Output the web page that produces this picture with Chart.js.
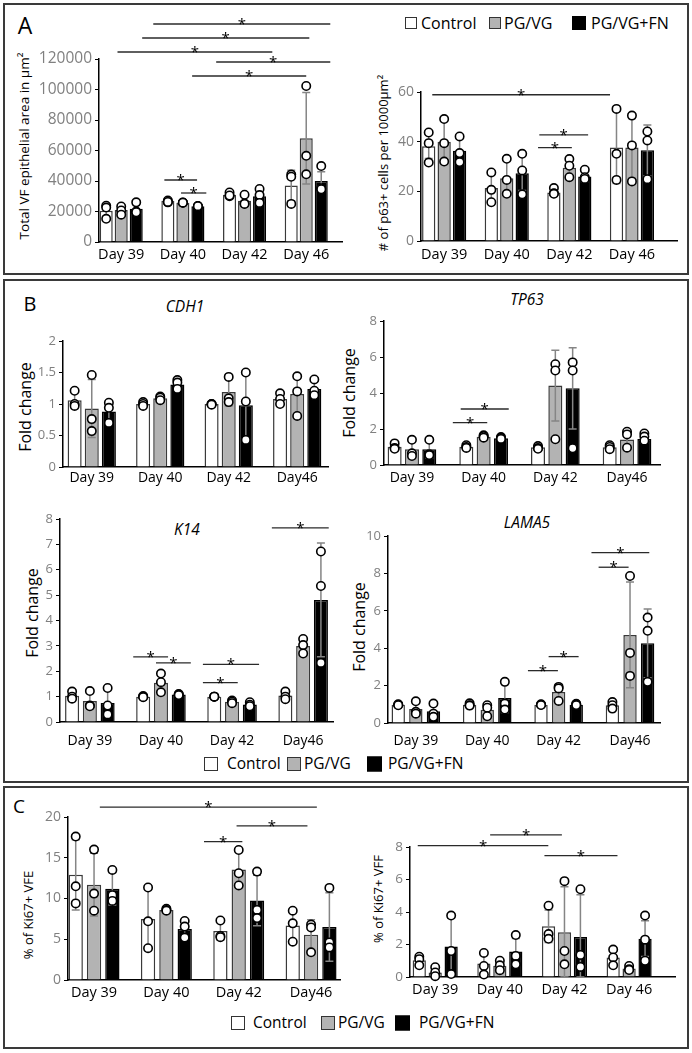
<!DOCTYPE html>
<html><head><meta charset="utf-8">
<script src="https://cdn.jsdelivr.net/npm/chart.js@4.4.1/dist/chart.umd.min.js"></script>
<style>
body{margin:0;width:692px;height:1053px;position:relative;background:#fff;font-family:'Open Sans',sans-serif;overflow:hidden;color:#000}
.panel{position:absolute;border:2px solid #3a3a3a;box-sizing:border-box}
.c{position:absolute;white-space:nowrap;transform:translate(-50%,-50%);line-height:1}
.yt{position:absolute;white-space:nowrap;transform:translate(-50%,-50%) rotate(-90deg);line-height:1}
.it{font-style:italic;font-size:15.5px}
.lt{position:absolute;white-space:nowrap;transform:translateY(-50%);line-height:1}
.sw{position:absolute;box-sizing:border-box;border:1.5px solid #333;transform:translateY(-50%)}
canvas{position:absolute}
</style></head>
<body>
<div class="panel" style="left:3px;top:3px;width:686px;height:272px"></div>
<div class="panel" style="left:3px;top:279px;width:686px;height:504px"></div>
<div class="panel" style="left:3px;top:786px;width:686px;height:263px"></div>

<div class="c" style="left:25px;top:25px;font-size:23px">A</div>
<div class="c" style="left:30px;top:304px;font-size:20px">B</div>
<div class="c" style="left:19px;top:806px;font-size:19px">C</div>

<div class="yt" style="left:25px;top:146px;font-size:13.5px">Total VF epithelial area in µm²</div>
<div class="yt" style="left:383px;top:163px;font-size:13px"># of p63+ cells per 10000µm²</div>
<div class="yt" style="left:25px;top:407px;font-size:16px">Fold change</div>
<div class="yt" style="left:349px;top:393px;font-size:16px">Fold change</div>
<div class="yt" style="left:32px;top:613px;font-size:16px">Fold change</div>
<div class="yt" style="left:359px;top:627px;font-size:16px">Fold change</div>
<div class="yt" style="left:28px;top:915px;font-size:13px">% of Ki67+ VFE</div>
<div class="yt" style="left:378px;top:899px;font-size:13px">% of Ki67+ VFF</div>

<div class="c it" style="left:185px;top:307px">CDH1</div>
<div class="c it" style="left:527px;top:300px">TP63</div>
<div class="c it" style="left:187px;top:530px">K14</div>
<div class="c it" style="left:527px;top:523px">LAMA5</div>

<div id="legends"></div>

<script>
// ---------- categories ----------
const SERIES = ['Control', 'PG/VG', 'PG/VG+FN'];
const daysA = ['Day 39', 'Day 40', 'Day 42', 'Day 46'];
const daysB = ['Day 39', 'Day 40', 'Day 42', 'Day46'];
const daysC2 = ['Day 39', 'Day 40', 'Day 42', 'Day 46'];

// ---------- A1: Total VF epithelial area (µm²) ----------
const areaCtrl = [20500, 27000, 31000, 37000];
const areaCtrlSD = [3500, 800, 1500, 10000];
const areaCtrlPts = [[23800, 22600, 15200], [27200, 26000, 26300], [32500, 30000, 30500], [44200, 42800, 25000]];
const areaPG = [21000, 25800, 27000, 68000];
const areaPGSD = [2500, 500, 3200, 30000];
const areaPGPts = [[23300, 20700, 17900], [25900, 25700, 25800], [31000, 25200, 25000], [102300, 56500, 44400]];
const areaFN = [21800, 23500, 30000, 40000];
const areaFNSD = [3000, 400, 4500, 6000];
const areaFNPts = [[26000, 20000, 19500], [23600, 23400, 23500], [34800, 30800, 25600], [49800, 35300, 34600]];
const areaSig = [[0.52, 3.39, 142950], [0.34, 3.05, 133760], [-0.06, 2.45, 124580], [1.54, 3.39, 118030], [1.15, 3.0, 108850], [0.70, 1.23, 40650], [0.97, 1.38, 32130]];

// ---------- A2: # of p63+ cells per 10000µm² ----------
const p63Ctrl = [38.2, 21.3, 19.5, 37.7];
const p63CtrlSD = [5.0, 5.5, 1.3, 14.5];
const p63CtrlPts = [[43.7, 39.4, 31.6], [27.6, 20.6, 15.6], [21.3, 19.2, 19.0], [53.2, 35.1, 24.6]];
const p63PG = [40.0, 25.3, 29.5, 37.7];
const p63PGSD = [8.8, 7.0, 3.5, 12.5];
const p63PGPts = [[49.1, 39.4, 32.0], [33.1, 24.6, 19.0], [33.0, 30.3, 25.7], [50.5, 38.5, 24.0]];
const p63FN = [36.3, 27.3, 26.0, 36.5];
const p63FNSD = [5.0, 7.0, 2.0, 10.2];
const p63FNPts = [[42.1, 35.4, 31.8], [35.1, 28.4, 18.8], [28.7, 25.7, 25.0], [44.1, 40.5, 24.9]];
const p63Sig = [[-0.19, 2.65, 58.9], [1.52, 2.30, 42.7], [1.50, 2.04, 37.6]];

// ---------- B1: CDH1 fold change ----------
const cdh1Ctrl = [1.06, 1.00, 1.00, 1.08];
const cdh1CtrlSD = [0.13, 0.03, 0.01, 0.09];
const cdh1CtrlPts = [[1.21, 1.00, 0.97], [1.03, 1.00, 0.97], [1.00, 1.00, 0.99], [1.17, 1.08, 1.00]];
const cdh1PG = [0.93, 1.09, 1.19, 1.16];
const cdh1PGSD = [0.46, 0.03, 0.22, 0.31];
const cdh1PGPts = [[1.46, 0.76, 0.57], [1.12, 1.10, 1.06], [1.43, 1.09, 1.03], [1.44, 1.20, 0.81]];
const cdh1FN = [0.88, 1.31, 0.98, 1.24];
const cdh1FNSD = [0.16, 0.07, 0.53, 0.12];
const cdh1FNPts = [[1.02, 0.94, 0.70], [1.38, 1.34, 1.24], [1.50, 1.04, 0.43], [1.39, 1.21, 1.14]];
const cdh1Sig = [];

// ---------- B2: TP63 fold change ----------
const tp63Ctrl = [1.02, 1.02, 0.98, 0.98];
const tp63CtrlSD = [0.15, 0.1, 0.08, 0.12];
const tp63CtrlPts = [[1.20, 0.95, 0.90], [1.10, 1.00, 0.95], [1.05, 0.95, 0.90], [1.10, 1.00, 0.88]];
const tp63PG = [0.87, 1.57, 4.41, 1.41];
const tp63PGSD = [0.48, 0.10, 1.97, 0.45];
const tp63PGPts = [[1.40, 0.65, 0.50], [1.65, 1.60, 1.52], [5.60, 5.25, 1.43], [1.85, 1.70, 0.96]];
const tp63FN = [0.87, 1.48, 4.26, 1.44];
const tp63FNSD = [0.48, 0.05, 2.26, 0.20];
const tp63FNPts = [[1.40, 0.60, 0.55], [1.55, 1.50, 1.45], [5.70, 5.25, 0.93], [1.75, 1.58, 1.35]];
const tp63Sig = [[0.57, 1.05, 2.35], [0.68, 1.35, 3.11]];

// ---------- B3: K14 fold change ----------
const k14Ctrl = [1.03, 1.00, 1.00, 1.04];
const k14CtrlSD = [0.12, 0.02, 0.02, 0.14];
const k14CtrlPts = [[1.20, 1.00, 0.92], [1.02, 1.00, 0.98], [1.00, 1.00, 1.00], [1.20, 1.00, 0.90]];
const k14PG = [0.83, 1.55, 0.80, 3.00];
const k14PGSD = [0.30, 0.37, 0.06, 0.28];
const k14PGPts = [[1.22, 0.65, 0.62], [1.91, 1.57, 1.17], [0.85, 0.80, 0.74], [3.27, 3.03, 2.70]];
const k14FN = [0.75, 1.08, 0.69, 4.81];
const k14FNSD = [0.52, 0.03, 0.07, 2.24];
const k14FNPts = [[1.34, 0.65, 0.30], [1.10, 1.08, 1.06], [0.78, 0.68, 0.62], [6.72, 5.36, 2.33]];
const k14Sig = [[0.61, 1.10, 2.57], [0.93, 1.42, 2.33], [1.59, 2.38, 2.27], [1.59, 2.08, 1.55], [2.56, 3.36, 7.65]];

// ---------- B4: LAMA5 fold change ----------
const lamaCtrl = [0.98, 0.98, 0.98, 0.95];
const lamaCtrlSD = [0.03, 0.08, 0.03, 0.15];
const lamaCtrlPts = [[1.00, 0.98, 0.95], [1.05, 0.95, 0.93], [1.00, 0.98, 0.96], [1.12, 0.95, 0.77]];
const lamaPG = [0.75, 0.71, 1.66, 4.71];
const lamaPGSD = [0.35, 0.30, 0.40, 2.83];
const lamaPGPts = [[1.16, 0.60, 0.50], [0.95, 0.82, 0.36], [1.93, 1.85, 1.18], [7.86, 3.75, 2.52]];
const lamaFN = [0.63, 1.34, 0.98, 4.26];
const lamaFNSD = [0.36, 0.78, 0.05, 1.84];
const lamaFNPts = [[1.04, 0.50, 0.33], [2.20, 1.04, 0.72], [1.03, 1.00, 0.96], [5.64, 4.93, 2.20]];
const lamaSig = [[1.57, 1.99, 2.80], [1.86, 2.28, 3.55], [2.56, 2.98, 8.33], [2.46, 3.27, 9.11]];

// ---------- C1: % of Ki67+ VFE ----------
const vfeCtrl = [12.9, 7.5, 6.0, 6.7];
const vfeCtrlSD = [4.3, 3.7, 1.1, 1.9];
const vfeCtrlPts = [[17.6, 11.5, 9.4], [11.35, 7.2, 3.9], [7.3, 5.4, 5.25], [8.5, 6.95, 4.7]];
const vfePG = [11.7, 8.6, 13.55, 5.55];
const vfePGSD = [3.85, 0.15, 2.2, 1.85];
const vfePGPts = [[16.0, 10.6, 8.5], [8.75, 8.6, 8.5], [15.95, 13.1, 11.6], [6.8, 6.45, 3.4]];
const vfeFN = [11.2, 6.25, 9.75, 6.5];
const vfeFNSD = [2.0, 1.0, 3.1, 4.2];
const vfeFNPts = [[13.5, 10.4, 9.7], [7.25, 6.55, 5.2], [13.3, 8.6, 7.6], [11.3, 4.6, 4.0]];
const vfeSig = [[0.08, 3.08, 21.2], [1.97, 2.95, 18.9], [1.52, 2.05, 16.97]];

// ---------- C2: % of Ki67+ VFF ----------
const vffCtrl = [1.03, 0.83, 3.13, 1.20];
const vffCtrlSD = [0.25, 0.62, 1.00, 0.45];
const vffCtrlPts = [[1.25, 1.10, 0.72], [1.48, 0.68, 0.15], [4.39, 2.64, 2.35], [1.69, 1.20, 0.72]];
const vffPG = [0.27, 0.70, 2.76, 0.53];
const vffPGSD = [0.20, 0.25, 2.80, 0.12];
const vffPGPts = [[0.60, 0.28, 0.05], [1.00, 0.72, 0.42], [5.90, 1.60, 0.78], [0.68, 0.47, 0.43]];
const vffFN = [1.87, 1.57, 2.46, 2.36];
const vffFNSD = [1.75, 0.80, 2.60, 1.10];
const vffFNPts = [[3.78, 1.60, 0.18], [2.58, 1.30, 0.78], [5.40, 1.36, 0.62], [3.78, 2.30, 1.00]];
const vffSig = [[-0.27, 1.75, 8.09], [0.85, 1.96, 8.75], [1.69, 2.82, 7.47]];

// ---------- styles ----------
const STYLES = [
  {fill: '#ffffff', stroke: '#3a3a3a'},
  {fill: '#b3b3b3', stroke: '#3a3a3a'},
  {fill: '#000000', stroke: '#000000'}
];

const errPlugin = {
  id: 'errbars',
  afterDatasetDraw(chart, args) {
    const ds = chart.data.datasets[args.index];
    if (!ds.errors) return;
    const y = chart.scales.y, ctx = chart.ctx;
    ctx.save();
    ctx.strokeStyle = '#858585';
    ctx.lineWidth = 1.5;
    args.meta.data.forEach((bar, i) => {
      const v = ds.data[i].y, e = ds.errors[i];
      const x = bar.x;
      const yt = y.getPixelForValue(v + e);
      const yb = y.getPixelForValue(Math.max(v - e, 0));
      ctx.beginPath();
      ctx.moveTo(x, yt); ctx.lineTo(x, yb);
      ctx.moveTo(x - 4, yt); ctx.lineTo(x + 4, yt);
      ctx.moveTo(x - 4, yb); ctx.lineTo(x + 4, yb);
      ctx.stroke();
    });
    ctx.restore();
  }
};

const sigPlugin = {
  id: 'sig',
  afterDatasetsDraw(chart, args, opts) {
    const lines = opts.lines || [];
    const xs = chart.scales.x, ys = chart.scales.y, ctx = chart.ctx;
    ctx.save();
    ctx.strokeStyle = '#2a2a2a';
    ctx.fillStyle = '#000';
    ctx.lineWidth = 1.3;
    ctx.font = '15px "Open Sans"';
    ctx.textAlign = 'center';
    ctx.textBaseline = 'alphabetic';
    lines.forEach(([x1, x2, yv]) => {
      const p1 = xs.getPixelForValue(x1), p2 = xs.getPixelForValue(x2), py = ys.getPixelForValue(yv);
      ctx.beginPath(); ctx.moveTo(p1, py); ctx.lineTo(p2, py); ctx.stroke();
      ctx.fillText('*', (p1 + p2) / 2, py + 5);
    });
    ctx.restore();
  }
};

function makeChart(cfg) {
  const g = cfg.geo;
  const W = g.yW + (g.r - g.l) + g.pr;
  const H = g.pt + (g.b - g.t) + g.xH;
  const canvas = document.createElement('canvas');
  canvas.width = W; canvas.height = H;
  canvas.style.left = (g.l - g.yW) + 'px';
  canvas.style.top = (g.t - g.pt) + 'px';
  canvas.style.width = W + 'px';
  canvas.style.height = H + 'px';
  document.body.appendChild(canvas);

  const off = cfg.catPct / 3;
  const datasets = [];
  cfg.means.forEach((m, si) => {
    datasets.push({
      type: 'bar', label: SERIES[si],
      data: m.map((v, i) => ({x: i, y: v})),
      errors: cfg.sds[si],
      backgroundColor: STYLES[si].fill, borderColor: STYLES[si].stroke,
      borderWidth: 1.5, borderSkipped: 'bottom',
      categoryPercentage: cfg.catPct, barPercentage: cfg.barPct,
      order: 3
    });
  });
  cfg.pts.forEach((arr, si) => {
    const data = [];
    arr.forEach((vals, i) => vals.forEach(v => data.push({x: i + (si - 1) * off, y: v})));
    datasets.push({
      type: 'scatter', label: SERIES[si] + ' points', data,
      pointRadius: 4.2, pointHoverRadius: 4.2,
      pointBackgroundColor: '#ffffff', pointBorderColor: '#000000', pointBorderWidth: 1.6,
      order: 1, clip: false
    });
  });

  new Chart(canvas, {
    type: 'bar',
    data: {datasets},
    plugins: [errPlugin, sigPlugin],
    options: {
      responsive: false, animation: false, devicePixelRatio: 1,
      layout: {padding: {left: 0, top: g.pt, right: g.pr, bottom: 0}},
      plugins: {legend: {display: false}, tooltip: {enabled: false}, sig: {lines: cfg.sig}},
      scales: {
        x: {
          type: 'linear', min: cfg.xMin, max: cfg.xMax, offset: false,
          afterBuildTicks: s => { s.ticks = cfg.cats.map((c, i) => ({value: i})); },
          afterFit: s => { s.height = g.xH; },
          grid: {display: false, drawTicks: false, offset: false},
          border: {display: true, color: '#000', width: 1.5},
          ticks: {
            callback: v => cfg.cats[v], color: '#000', autoSkip: false, maxRotation: 0,
            font: {family: 'Open Sans', size: cfg.labelSize}, padding: g.xPad
          }
        },
        y: {
          min: 0, max: cfg.yMax,
          afterFit: s => { s.width = g.yW; },
          grid: {display: true, drawOnChartArea: false, drawTicks: true, tickLength: 4, color: '#000', lineWidth: 1},
          border: {display: true, color: '#000', width: 1.5},
          ticks: {
            stepSize: cfg.yStep, color: '#808080', padding: 3,
            font: {family: 'Open Sans', size: cfg.tickSize},
            callback: v => String(v)
          }
        }
      }
    }
  });
}

const charts = [
  {cats: daysA, means: [areaCtrl, areaPG, areaFN], sds: [areaCtrlSD, areaPGSD, areaFNSD], pts: [areaCtrlPts, areaPGPts, areaFNPts], sig: areaSig,
   yMax: 120000, yStep: 20000, xMin: -0.36, xMax: 3.58, catPct: 0.73, barPct: 0.87, tickSize: 15.5, labelSize: 14.5,
   geo: {l: 99, r: 342, t: 59, b: 242, yW: 64, pt: 50, pr: 6, xH: 30, xPad: 4.5}},
  {cats: daysA, means: [p63Ctrl, p63PG, p63FN], sds: [p63CtrlSD, p63PGSD, p63FNSD], pts: [p63CtrlPts, p63PGPts, p63FNPts], sig: p63Sig,
   yMax: 60, yStep: 20, xMin: -0.37, xMax: 3.72, catPct: 0.74, barPct: 0.86, tickSize: 14, labelSize: 14.5,
   geo: {l: 421, r: 677, t: 92, b: 241, yW: 30, pt: 30, pr: 6, xH: 30, xPad: 5}},
  {cats: daysB, means: [cdh1Ctrl, cdh1PG, cdh1FN], sds: [cdh1CtrlSD, cdh1PGSD, cdh1FNSD], pts: [cdh1CtrlPts, cdh1PGPts, cdh1FNPts], sig: cdh1Sig,
   yMax: 2, yStep: 0.5, xMin: -0.42, xMax: 3.45, catPct: 0.75, barPct: 0.82, tickSize: 13, labelSize: 14,
   geo: {l: 63, r: 328, t: 341, b: 467, yW: 30, pt: 12, pr: 6, xH: 26, xPad: 2.5}},
  {cats: daysB, means: [tp63Ctrl, tp63PG, tp63FN], sds: [tp63CtrlSD, tp63PGSD, tp63FNSD], pts: [tp63CtrlPts, tp63PGPts, tp63FNPts], sig: tp63Sig,
   yMax: 8, yStep: 2, xMin: -0.39, xMax: 3.46, catPct: 0.725, barPct: 0.81, tickSize: 13, labelSize: 14,
   geo: {l: 384, r: 660, t: 321, b: 465, yW: 24, pt: 12, pr: 6, xH: 26, xPad: 4.5}},
  {cats: daysB, means: [k14Ctrl, k14PG, k14FN], sds: [k14CtrlSD, k14PGSD, k14FNSD], pts: [k14CtrlPts, k14PGPts, k14FNPts], sig: k14Sig,
   yMax: 8, yStep: 1, xMin: -0.42, xMax: 3.42, catPct: 0.75, barPct: 0.79, tickSize: 13, labelSize: 14,
   geo: {l: 60, r: 333, t: 519, b: 722, yW: 24, pt: 12, pr: 6, xH: 30, xPad: 10.5}},
  {cats: daysB, means: [lamaCtrl, lamaPG, lamaFN], sds: [lamaCtrlSD, lamaPGSD, lamaFNSD], pts: [lamaCtrlPts, lamaPGPts, lamaFNPts], sig: lamaSig,
   yMax: 10, yStep: 2, xMin: -0.39, xMax: 3.42, catPct: 0.74, barPct: 0.76, tickSize: 13, labelSize: 14,
   geo: {l: 388, r: 660, t: 536, b: 723, yW: 24, pt: 12, pr: 6, xH: 30, xPad: 10}},
  {cats: daysB, means: [vfeCtrl, vfePG, vfeFN], sds: [vfeCtrlSD, vfePGSD, vfeFNSD], pts: [vfeCtrlPts, vfePGPts, vfeFNPts], sig: vfeSig,
   yMax: 20, yStep: 5, xMin: -0.36, xMax: 3.40, catPct: 0.76, barPct: 0.78, tickSize: 14, labelSize: 14.5,
   geo: {l: 68, r: 340, t: 817, b: 980, yW: 28, pt: 20, pr: 6, xH: 28, xPad: 4.5}},
  {cats: daysC2, means: [vffCtrl, vffPG, vffFN], sds: [vffCtrlSD, vffPGSD, vffFNSD], pts: [vffCtrlPts, vffPGPts, vffFNPts], sig: vffSig,
   yMax: 8, yStep: 2, xMin: -0.39, xMax: 3.71, catPct: 0.74, barPct: 0.83, tickSize: 13.5, labelSize: 14.5,
   geo: {l: 410, r: 675, t: 847, b: 977, yW: 24, pt: 20, pr: 6, xH: 28, xPad: 4.5}}
];
charts.forEach(makeChart);

// ---------- HTML legends ----------
function legend(yc, fs, items) {
  const host = document.getElementById('legends');
  items.forEach(([boxX, size, si, textX]) => {
    const b = document.createElement('div');
    b.className = 'sw';
    b.style.left = boxX + 'px'; b.style.top = yc + 'px';
    b.style.width = size + 'px'; b.style.height = size + 'px';
    b.style.background = STYLES[si].fill;
    b.style.borderColor = si === 2 ? '#000' : '#333';
    host.appendChild(b);
    const t = document.createElement('div');
    t.className = 'lt';
    t.style.left = textX + 'px'; t.style.top = yc + 'px'; t.style.fontSize = fs + 'px';
    t.textContent = SERIES[si];
    host.appendChild(t);
  });
}
legend(23, 16, [[405, 12, 0, 421], [489, 12, 1, 504], [572, 14, 2, 591]]);
legend(764, 15.5, [[204, 14, 0, 227], [287, 14, 1, 304], [367, 15, 2, 388]]);
legend(1023, 15.5, [[231, 14, 0, 253], [321, 14, 1, 338], [395, 15, 2, 419]]);
</script>
</body></html>
